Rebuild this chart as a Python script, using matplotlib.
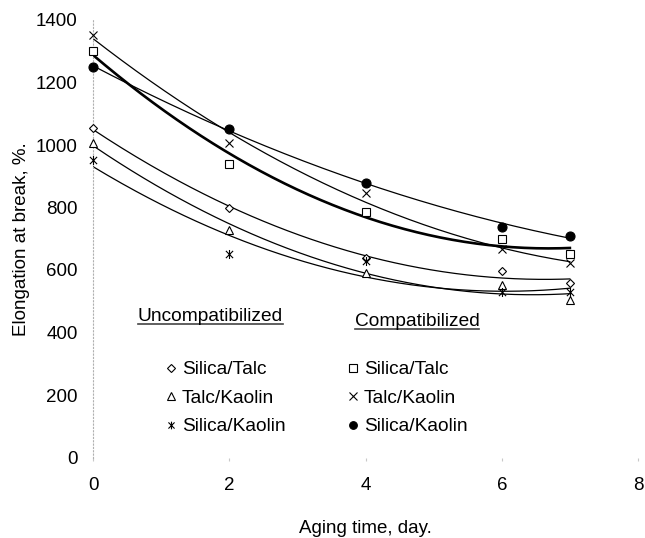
import matplotlib
matplotlib.use("Agg")
import matplotlib.pyplot as plt
from matplotlib.lines import Line2D
from matplotlib.path import Path
import numpy as np

plt.rcParams["font.family"] = ["Liberation Sans", "DejaVu Sans"]

days = [0, 2, 4, 6, 7]

# uncompatibilized
unc_silica_talc = [1053, 799, 638, 598, 557]
unc_talc_kaolin = [1007, 728, 592, 552, 504]
unc_silica_kaolin = [952, 651, 628, 531, 531]

# compatibilized
com_silica_talc = [1302, 938, 787, 698, 651]
com_talc_kaolin = [1352, 1007, 847, 666, 623]
com_silica_kaolin = [1251, 1050, 879, 739, 709]

labels = ["Silica/Talc", "Talc/Kaolin", "Silica/Kaolin"]

# x with a vertical bar through it
star = Path([(-0.8, -0.8), (0.8, 0.8), (-0.8, 0.8), (0.8, -0.8), (0, -1), (0, 1)],
            [Path.MOVETO, Path.LINETO] * 3)

fig = plt.figure(figsize=(6.45, 5.38), dpi=100)
ax = fig.add_axes([93 / 645, 1 - 457.5 / 538, 545 / 645, 437.5 / 538])

series = [
    (unc_silica_talc, dict(marker="D", ms=4.3, mfc="white"), 0.9),
    (unc_talc_kaolin, dict(marker="^", ms=6, mfc="white"), 0.9),
    (unc_silica_kaolin, dict(marker=star, ms=6.5), 0.9),
    (com_silica_talc, dict(marker="s", ms=6, mfc="white"), 1.9),
    (com_talc_kaolin, dict(marker="x", ms=6.3), 0.9),
    (com_silica_kaolin, dict(marker="o", ms=6.5, mfc="black"), 0.9),
]

xs = np.linspace(0, 7, 200)
handles = []
for vals, mk, lw in series:
    coef = np.polyfit(days, vals, 2)
    ax.plot(xs, np.polyval(coef, xs), color="black", lw=lw, zorder=2)
    ax.plot(days, vals, ls="none", color="black", mec="black", mew=0.8, zorder=3,
            clip_on=False, **mk)
    h = dict(mk)
    h["ms"] = mk["ms"] * 0.85
    handles.append(Line2D([], [], ls="none", color="black", mec="black", mew=0.8, **h))

ax.set_xlim(0, 8)
ax.set_ylim(0, 1400)
ax.set_xticks([0, 2, 4, 6, 8])
ax.set_yticks(range(0, 1401, 200))
for s in ["top", "right", "bottom"]:
    ax.spines[s].set_visible(False)
ax.spines["left"].set_color("#b0b0b0")
ax.spines["left"].set_linestyle((0, (1, 2)))
ax.spines["left"].set_linewidth(0.8)
ax.tick_params(axis="y", length=0, pad=11, labelsize=13.5)
ax.tick_params(axis="x", length=2, color="#c8c8c8", pad=12, labelsize=13.5)

ax.set_xlabel("Aging time, day.", fontsize=13.5, labelpad=19)
ax.set_ylabel("Elongation at break, %.", fontsize=13.5, labelpad=4)

headers = [
    ax.text(0.66, 450, "Uncompatibilized", fontsize=13.8, va="center", ha="left"),
    ax.text(3.84, 434, "Compatibilized", fontsize=13.8, va="center", ha="left"),
]

kw = dict(frameon=False, fontsize=13.8, handlelength=0.7, handletextpad=0.25,
          labelspacing=0.58, borderpad=0, borderaxespad=0, loc="upper left")
leg1 = ax.legend(handles[:3], labels, bbox_to_anchor=(0.130, 0.2206), **kw)
ax.add_artist(leg1)
ax.legend(handles[3:], labels, bbox_to_anchor=(0.464, 0.2206), **kw)

# underline the two headers
fig.canvas.draw()
inv = ax.transData.inverted()
for t in headers:
    bb = t.get_window_extent()
    (x0, y0), (x1, _) = inv.transform([(bb.x0, bb.y0 + 1), (bb.x1, bb.y0 + 1)])
    ax.plot([x0, x1], [y0, y0], color="#444444", lw=1.2)

fig.savefig("out.png", dpi=100)
